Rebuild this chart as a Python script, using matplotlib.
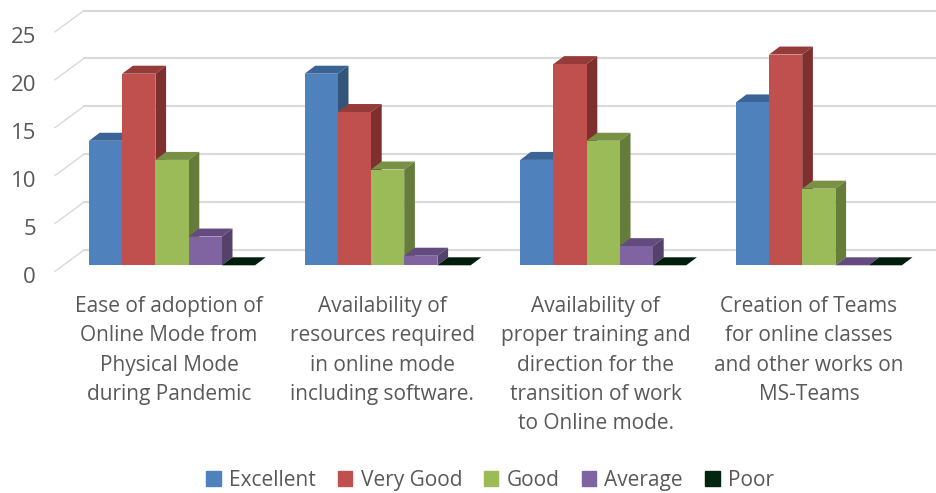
import matplotlib.pyplot as plt
from matplotlib.patches import Patch

plt.rcParams['font.family'] = ['Open Sans', 'DejaVu Sans']

categories = ['Ease of adoption of\nOnline Mode from\nPhysical Mode\nduring Pandemic',
              'Availability of\nresources required\nin online mode\nincluding software.',
              'Availability of\nproper training and\ndirection for the\ntransition of work\nto Online mode.',
              'Creation of Teams\nfor online classes\nand other works on\nMS-Teams']
series = ['Excellent', 'Very Good', 'Good', 'Average', 'Poor']
excellent = [13, 20, 11, 17]
very_good = [20, 16, 21, 22]
good = [11, 10, 13, 8]
average = [3, 1, 2, 0]
poor = [0, 0, 0, 0]
yticks = [0, 5, 10, 15, 20, 25]

front_colors = ['#4f81bd', '#c0504d', '#9bbb59', '#8064a2', '#00260f']
top_colors = ['#3a6496', '#953c3a', '#789144', '#634b80', '#011d0b']
side_colors = ['#325578', '#7d302e', '#667c3a', '#54426b', '#011d0b']
text_color = '#595959'
grid_color = '#d9d9d9'

fig, ax = plt.subplots(figsize=(9.36, 4.93), dpi=100)
ax.set_position([0, 0, 1, 1])

# one x unit is one category, one y unit is one answer
px_x = 215.6
px_y = 9.58
ax.set_xlim(-89 / px_x, (936 - 89) / px_x)
ax.set_ylim((265.3 - 493) / px_y, 265.3 / px_y)
ax.axis('off')

bar_width = 33.2 / px_x
depth_x = 10.7 / px_x
depth_y = 8 / px_y

# back wall and the floor lines coming towards the front
wall_x = -5 / px_x
wall_y = 15.3 / px_y
front_x = -34 / px_x
front_y = -6 / px_y
for v in yticks:
    ax.plot([wall_x, ax.get_xlim()[1]], [v + wall_y, v + wall_y], color=grid_color, lw=1.5, zorder=1)
    ax.plot([front_x, wall_x], [v + front_y, v + wall_y], color=grid_color, lw=1, zorder=1)
    ax.text(36 / px_x + ax.get_xlim()[0], v + front_y - 6 / px_y, str(v), ha='right', va='center',
            fontsize=16, color=text_color)

values = [excellent, very_good, good, average, poor]
z = 2
for i in range(len(categories)):
    for k, vals in enumerate(values):
        x = i + k * bar_width
        v = vals[i]
        ax.fill([x, x + depth_x, x + bar_width + depth_x, x + bar_width],
                [v, v + depth_y, v + depth_y, v], color=top_colors[k], lw=0, zorder=z)
        ax.fill([x + bar_width, x + bar_width + depth_x, x + bar_width + depth_x, x + bar_width],
                [0, depth_y, v + depth_y, v], color=side_colors[k], lw=0, zorder=z)
        ax.bar(x, v, width=bar_width, align='edge', color=front_colors[k], zorder=z + 1)
        z += 2

for i, label in enumerate(categories):
    ax.text((169 - 89 + 213.3 * i) / px_x, (265.3 - 296) / px_y, label, ha='center', va='top',
            fontsize=15, color=text_color, linespacing=1.52)

handles = [Patch(color=c, label=s) for c, s in zip(front_colors, series)]
ax.legend(handles=handles, loc='center', bbox_to_anchor=(490 / 936, 1 - 480.5 / 493), ncol=5, frameon=False,
          fontsize=15, labelcolor=text_color, handlelength=0.7, handleheight=0.7, handletextpad=0.4,
          columnspacing=1.05)

plt.savefig('out.png')
